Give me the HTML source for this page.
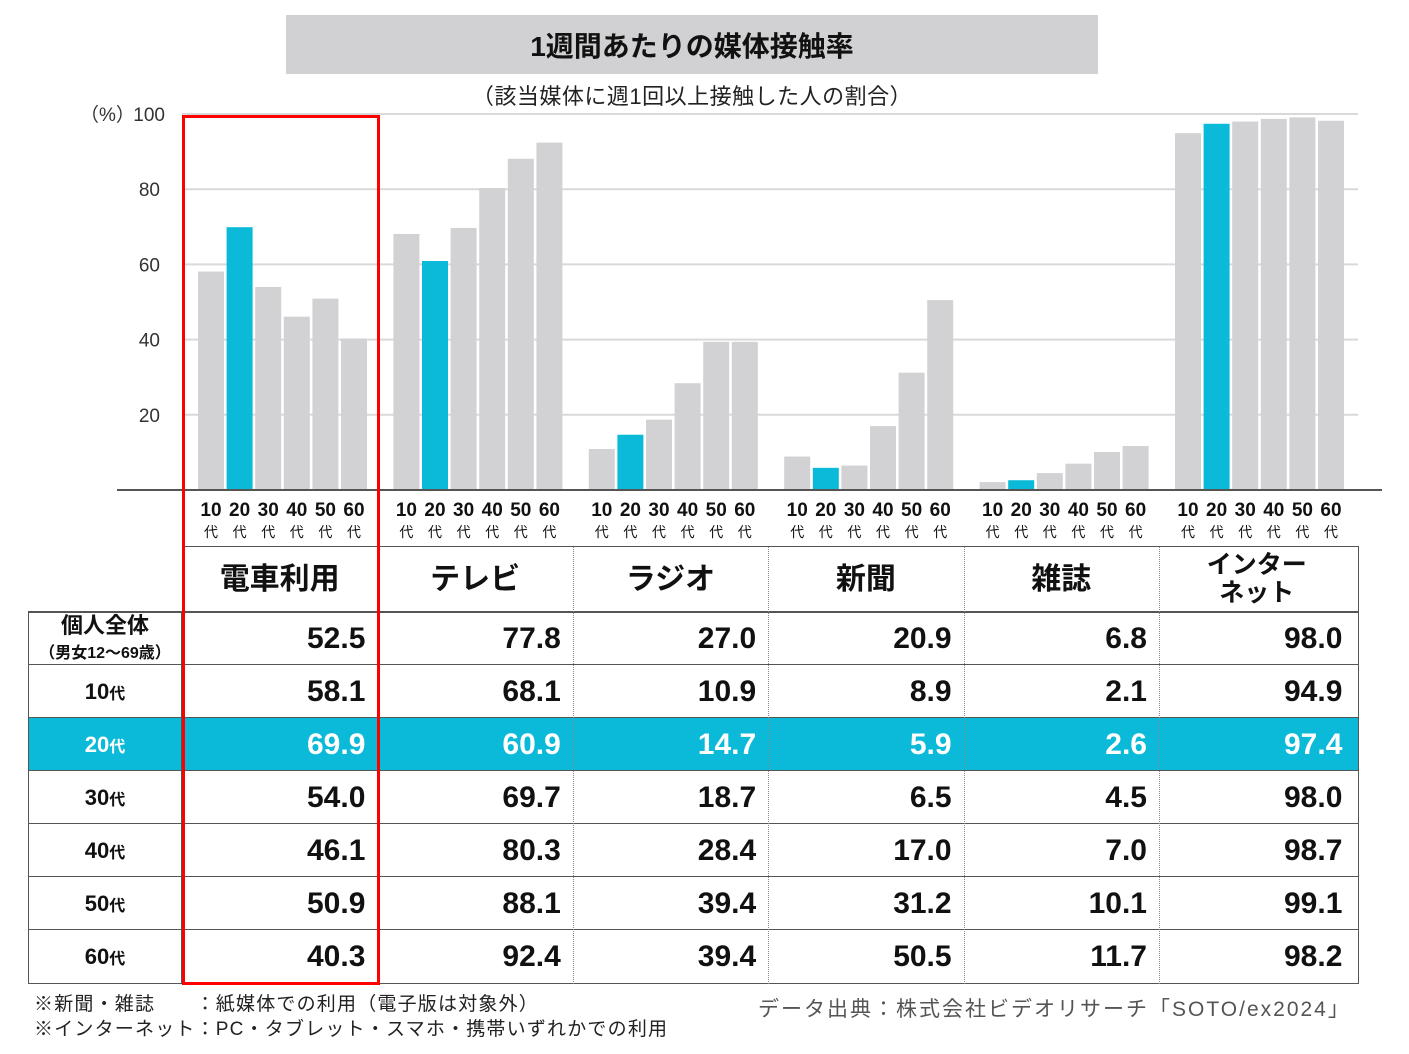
<!DOCTYPE html>
<html><head><meta charset="utf-8">
<style>
body{margin:0;width:1409px;height:1054px;background:#fff;position:relative;overflow:hidden;font-family:"Liberation Sans","Noto Sans CJK JP",sans-serif;color:#111}
.a{position:absolute}
.cell{position:absolute;box-sizing:border-box;display:flex;align-items:center;justify-content:flex-end;padding-right:12px;font-weight:bold;font-size:30px}
.hd{position:absolute;box-sizing:border-box;display:flex;align-items:center;justify-content:center;font-weight:bold;font-size:30px;text-align:center;line-height:1}
.lab{position:absolute;left:28px;width:154px;display:flex;align-items:center;justify-content:center;font-weight:bold;font-size:22px}
</style></head><body>
<div class="a" style="left:286px;top:15px;width:812px;height:59px;background:#d1d1d3;display:flex;align-items:center;justify-content:center;font-size:28px;font-weight:bold">1週間あたりの媒体接触率</div>
<div class="a" style="left:380px;top:79px;width:624px;text-align:center;font-size:22px;color:#222;letter-spacing:0.5px">（該当媒体に週1回以上接触した人の割合）</div>
<svg class="a" id="chart" style="left:0;top:0" width="1409" height="545"></svg>
<div id="table"></div>
<div class="a" style="left:182px;top:115px;width:198px;height:870px;box-sizing:border-box;border:3px solid #f00"></div>
<div class="a" style="left:34px;top:989px;font-size:19px;color:#222;white-space:pre;letter-spacing:1.2px">※新聞・雑誌　　：紙媒体での利用（電子版は対象外）</div>
<div class="a" style="left:34px;top:1014px;font-size:19px;color:#222;letter-spacing:1.2px">※インターネット：PC・タブレット・スマホ・携帯いずれかでの利用</div>
<div class="a" style="left:758px;top:993px;font-size:21px;color:#555;letter-spacing:2px">データ出典：株式会社ビデオリサーチ「SOTO/ex2024」</div>
<script>
const media=["電車利用","テレビ","ラジオ","新聞","雑誌","インター<br>ネット"];
const ages=["10","20","30","40","50","60"];
const yTicks=[20,40,60,80,100];
const overall=[52.5,77.8,27.0,20.9,6.8,98.0];
const age10=[58.1,68.1,10.9,8.9,2.1,94.9];
const age20=[69.9,60.9,14.7,5.9,2.6,97.4];
const age30=[54.0,69.7,18.7,6.5,4.5,98.0];
const age40=[46.1,80.3,28.4,17.0,7.0,98.7];
const age50=[50.9,88.1,39.4,31.2,10.1,99.1];
const age60=[40.3,92.4,39.4,50.5,11.7,98.2];
const byAge=[age10,age20,age30,age40,age50,age60];
const ns="http://www.w3.org/2000/svg";
const svg=document.getElementById('chart');
const colL=182,colW=195.4;
const y=v=>490-v*3.76;
const colX=i=>colL+i*colW;
function el(t,a){const e=document.createElementNS(ns,t);for(const k in a)e.setAttribute(k,a[k]);svg.appendChild(e);return e;}
yTicks.forEach(t=>{
 const g=el('line',{x1:182,x2:1358,y1:y(t),y2:y(t),stroke:'#d9d9d9','stroke-width':2});
 
 
 const tx=el('text',{x:t==100?165:160,y:y(t)+7,'text-anchor':'end','font-size':19,fill:'#333'});
 tx.textContent=t;
 
 
});
const pu=el('text',{x:80,y:121,'font-size':19,fill:'#333'});pu.textContent='（%）';


media.forEach((m,i)=>{
 ages.forEach((a,j)=>{
  const v=byAge[j][i];
  const bx=colX(i)+16+j*28.6;
  const r=el('rect',{x:bx,y:y(v),width:26,height:490-y(v),fill:j==1?'#0bbad9':'#d2d2d4'});
  
  
  const t1=el('text',{x:bx+13,y:516,'text-anchor':'middle','font-size':19,'font-weight':'bold',fill:'#111'});t1.textContent=a;
  
  
  const t2=el('text',{x:bx+13,y:537,'text-anchor':'middle','font-size':14,fill:'#111'});t2.textContent='代';
  
  
 });
});
const ax=el('line',{x1:117,x2:1382,y1:490,y2:490,stroke:'#555','stroke-width':2});


const tb=document.getElementById('table');
let h='';
const rowTop=[612,665,718,771,824,877,930];
const rowLab=['<div style="text-align:center;line-height:1.1">個人全体<br><span style="font-size:16px">（男女12～69歳）</span></div>','10<span style="font-size:16px">代</span>','20<span style="font-size:16px">代</span>','30<span style="font-size:16px">代</span>','40<span style="font-size:16px">代</span>','50<span style="font-size:16px">代</span>','60<span style="font-size:16px">代</span>'];
const rows=[overall,age10,age20,age30,age40,age50,age60];
h+='<div class="a" style="left:28px;top:718px;width:1330px;height:53px;background:#0bbad9"></div>';
h+='<div class="a" style="left:182px;top:546px;width:1177px;height:66px;box-sizing:border-box;border:1.5px solid #555;border-bottom:none"></div>';
h+='<div class="a" style="left:28px;top:612px;width:1331px;height:372px;box-sizing:border-box;border:1.5px solid #555"></div>';
for(let r=1;r<7;r++){h+=`<div class="a" style="left:28px;top:${rowTop[r]-1}px;width:1331px;height:0;border-top:1.5px solid #555"></div>`;}
h+=`<div class="a" style="left:28px;top:611px;width:1331px;border-top:1.5px solid #555"></div>`;
h+=`<div class="a" style="left:181px;top:612px;height:372px;border-left:1.5px solid #555"></div>`;
for(let i=1;i<6;i++)h+=`<div class="a" style="left:${colX(i)}px;top:547px;height:437px;border-left:1px dotted #888"></div>`;
media.forEach((m,i)=>{h+=`<div class="hd" style="left:${colX(i)}px;top:547px;width:${colW}px;height:65px;${i==5?'font-size:25px;line-height:1.1':''}">${m}</div>`;});
rows.forEach((rw,r)=>{
 const top=rowTop[r],col=r==2?'#fff':'#111';
 h+=`<div class="lab" style="top:${top}px;height:53px;color:${col}">${rowLab[r]}</div>`;
 rw.forEach((v,i)=>{h+=`<div class="cell" style="left:${colX(i)}px;top:${top}px;width:${colW}px;height:53px;color:${col}">${v.toFixed(1)}</div>`;});
});
tb.innerHTML=h;
</script>
</body></html>
